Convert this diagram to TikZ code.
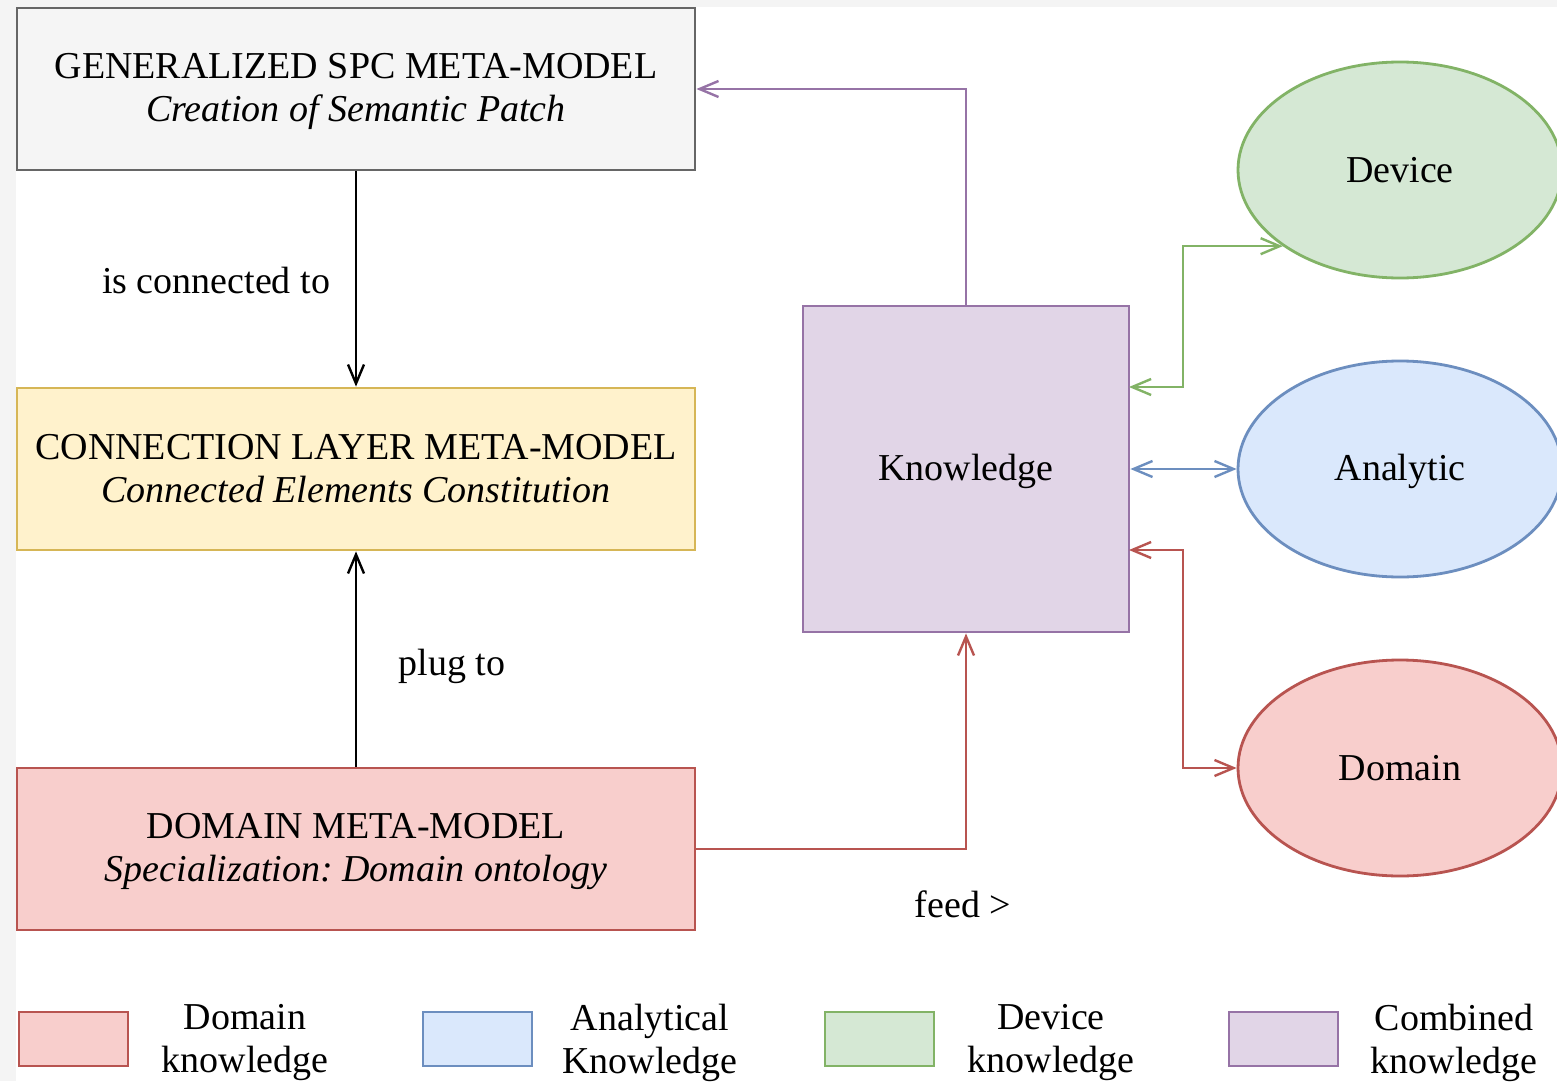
\documentclass[tikz,border=0pt]{standalone}
\usepackage{fontspec}
\setmainfont{Liberation Serif}
\frenchspacing
\usetikzlibrary{arrows.meta,calc,shapes.geometric}
\definecolor{grayF}{HTML}{F5F5F5}\definecolor{grayS}{HTML}{666666}
\definecolor{yelF}{HTML}{FFF2CC}\definecolor{yelS}{HTML}{D6B656}
\definecolor{redF}{HTML}{F8CECC}\definecolor{redS}{HTML}{B85450}
\definecolor{purF}{HTML}{E1D5E7}\definecolor{purS}{HTML}{9673A6}
\definecolor{grnF}{HTML}{D5E8D4}\definecolor{grnS}{HTML}{82B366}
\definecolor{bluF}{HTML}{DAE8FC}\definecolor{bluS}{HTML}{6C8EBF}
\definecolor{bgG}{HTML}{F4F4F4}
\begin{document}
\begin{tikzpicture}[x=1pt,y=-1pt,
  txt/.style={font=\fontsize{38}{43}\selectfont, align=center, inner sep=0pt},
  bigbox/.style={draw, line width=2.8pt, minimum width=678pt, minimum height=162pt, inner sep=0pt},
  ell/.style={txt, draw, ellipse, line width=2.8pt, minimum width=324pt, minimum height=216pt},
  legbox/.style={draw, line width=2.8pt, minimum width=109pt, minimum height=54pt, inner sep=0pt},
  tip/.style={Straight Barb[length=19pt,width=16pt,line width=2.4pt]},
  conn/.style={line width=2.4pt, arrows={-Straight Barb[length=19pt,width=16pt,line width=2.4pt]}},
  bconn/.style={line width=2.4pt, arrows={Straight Barb[length=19pt,width=16pt,line width=2.4pt]-Straight Barb[length=19pt,width=16pt,line width=2.4pt]}}
]
\useasboundingbox (0,0) rectangle (1557,1081);
\fill[bgG] (0,0) rectangle (1557,1081);
\fill[white] (16,7) rectangle (1557,1081);

% boxes
\node[bigbox, fill=grayF, draw=grayS] (gen) at (356,89) {};
\node[txt] (gent) at (356,91) {GENERALIZED SPC META-MODEL\\\itshape Creation of Semantic Patch};
\node[bigbox, fill=yelF, draw=yelS] (con) at (356,469) {};
\node[txt] (cont) at (356,469) {CONNECTION LAYER META-MODEL\\\itshape Connected Elements Constitution};
\node[bigbox, fill=redF, draw=redS] (dom) at (356,849) {};
\node[txt] (domt) at (356,852) {DOMAIN META-MODEL\\\itshape Specialization: Domain ontology};
\node[txt, draw=purS, fill=purF, line width=2.8pt, minimum width=326pt, minimum height=326pt] (kn) at (966,469) {};
\node[txt] (knt) at (966,471) {Knowledge};

% ellipses
\node[ell, fill=grnF, draw=grnS] (dev) at (1400,170) {Device};
\node[ell, fill=bluF, draw=bluS] (ana) at (1400,469) {};
\node[txt] (anat) at (1400,471) {Analytic};
\node[ell, fill=redF, draw=redS] (dome) at (1400,768) {Domain};

% connectors
\draw[conn] (gen.south) -- (con.north);
\node[txt] (l1) at (216,280) {is connected to};
\draw[conn] (dom.north) -- (con.south);
\node[txt] (l2) at (452,666) {plug to};
\draw[conn, purS] (kn.north) |- (gen.east);
\draw[conn, redS] (dom.east) -| (kn.south);
\node[txt] (l3) at (963,904) {feed >};

\coordinate (kg) at (1129,387);
\coordinate (kr) at (1129,550);
\draw[bconn, grnS] (kg) -- (1183,387) |- (dev.213.5);
\draw[bconn, bluS] (kn.east) -- (ana.west);
\draw[bconn, redS] (kr) -- (1183,550) |- (dome.west);

% legend
\node[legbox, fill=redF, draw=redS] (lg1) at (73.5,1039) {};
\node[txt] (lt1) at (245,1043) {Domain\\knowledge};
\node[legbox, fill=bluF, draw=bluS] (lg2) at (477.5,1039) {};
\node[txt] (lt2) at (650,1043) {Analytical\\Knowledge};
\node[legbox, fill=grnF, draw=grnS] (lg3) at (879.5,1039) {};
\node[txt] (lt3) at (1051,1043) {Device\\knowledge};
\node[legbox, fill=purF, draw=purS] (lg4) at (1283.5,1039) {};
\node[txt] (lt4) at (1454,1043) {Combined\\knowledge};
\end{tikzpicture}
\end{document}
